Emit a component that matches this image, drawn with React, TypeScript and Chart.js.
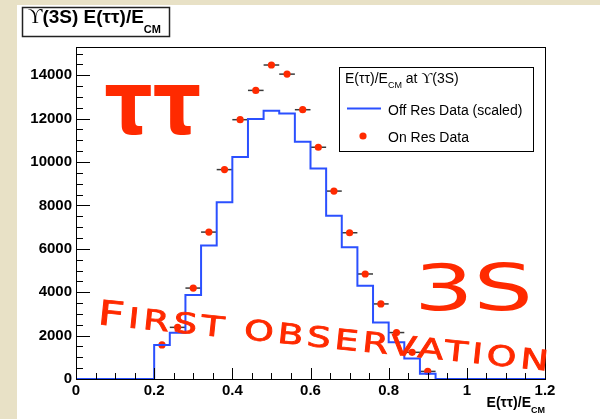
import React, { useEffect, useRef } from 'react';
import { Chart, registerables } from 'chart.js';

Chart.register(...registerables);

// E(tautau)/E_CM histogram: lower bin edges, bin width and scaled off-resonance counts
const binLowEdges = [0.2, 0.24, 0.28, 0.32, 0.36, 0.4, 0.44, 0.48, 0.52, 0.56, 0.6, 0.64, 0.68, 0.72, 0.76, 0.8, 0.84, 0.88];
const binWidth = 0.04;
const offResCounts = [1570, 2130, 3870, 6150, 8140, 10230, 11980, 12360, 12230, 10930, 9700, 7520, 6070, 4300, 2600, 1690, 950, 240];
// On-resonance counts, one per bin (drawn at bin centres)
const onResCounts = [1570, 2380, 4190, 6770, 9650, 11950, 13300, 14470, 14050, 12410, 10680, 8660, 6740, 4840, 3460, 2140, 1230, 350];

const xMin = 0;
const xMax = 1.2;
const yMin = 0;
const yMax = 15300;
const xTickValues = [0, 0.2, 0.4, 0.6, 0.8, 1, 1.2];
const yTickValues = [0, 2000, 4000, 6000, 8000, 10000, 12000, 14000];
const xMinorStep = 0.05;
const yMinorStep = 500;

const RED = '#ff2a00';
const BLUE = '#2b50ff';
const SANS = "'Liberation Sans', Arial, Helvetica, sans-serif";
const SERIF = "'Liberation Serif', 'DejaVu Serif', 'Times New Roman', serif";
const DEJAVU = "'DejaVu Sans', sans-serif";

type Part = { t: string; font: string; dy?: number };

function drawRich(ctx: CanvasRenderingContext2D, x: number, y: number, parts: Part[], align: 'left' | 'right' = 'left') {
  ctx.save();
  ctx.textAlign = 'left';
  ctx.textBaseline = 'alphabetic';
  let total = 0;
  for (const p of parts) {
    ctx.font = p.font;
    total += ctx.measureText(p.t).width;
  }
  let cx = align === 'right' ? x - total : x;
  for (const p of parts) {
    ctx.font = p.font;
    ctx.fillText(p.t, cx, y + (p.dy || 0));
    cx += ctx.measureText(p.t).width;
  }
  ctx.restore();
}

function fitText(ctx: CanvasRenderingContext2D, text: string, font: string, l: number, t: number, r: number, b: number) {
  ctx.save();
  ctx.font = font;
  ctx.textAlign = 'left';
  ctx.textBaseline = 'alphabetic';
  const m = ctx.measureText(text);
  const w = m.actualBoundingBoxLeft + m.actualBoundingBoxRight;
  const h = m.actualBoundingBoxAscent + m.actualBoundingBoxDescent;
  ctx.translate(l, t);
  ctx.scale((r - l) / w, (b - t) / h);
  ctx.fillText(text, m.actualBoundingBoxLeft, m.actualBoundingBoxAscent);
  ctx.restore();
}

const decorations = {
  id: 'decorations',
  beforeDraw(chart: any) {
    const ctx = chart.ctx as CanvasRenderingContext2D;
    ctx.save();
    ctx.fillStyle = '#e8e1c6';
    ctx.fillRect(0, 0, chart.width, chart.height);
    ctx.fillStyle = '#ffffff';
    ctx.fillRect(17, 5, chart.width - 17, chart.height - 5);
    ctx.restore();
  },
  beforeDatasetsDraw(chart: any) {
    // horizontal error bars (bin width) of the on-resonance points
    const ctx = chart.ctx as CanvasRenderingContext2D;
    const xs = chart.scales.x;
    const ys = chart.scales.y;
    ctx.save();
    ctx.strokeStyle = '#3a3a3a';
    ctx.lineWidth = 1.5;
    onResCounts.forEach((v, i) => {
      const lo = binLowEdges[i];
      const y = ys.getPixelForValue(v);
      ctx.beginPath();
      ctx.moveTo(xs.getPixelForValue(lo), y);
      ctx.lineTo(xs.getPixelForValue(lo + binWidth), y);
      ctx.stroke();
    });
    ctx.restore();
  },
  afterDraw(chart: any) {
    const ctx = chart.ctx as CanvasRenderingContext2D;
    const xs = chart.scales.x;
    const ys = chart.scales.y;
    const { left, right, top, bottom } = chart.chartArea;

    ctx.save();
    // frame
    ctx.strokeStyle = '#000';
    ctx.lineWidth = 1;
    ctx.strokeRect(Math.round(left) + 0.5, Math.round(top) + 0.5, Math.round(right - left), Math.round(bottom - top));

    // y ticks, pointing into the frame
    ctx.beginPath();
    for (let v = yMin; v <= yMax + 1e-6; v += yMinorStep) {
      const y = Math.round(ys.getPixelForValue(v)) + 0.5;
      const major = Math.abs(v % 2000) < 1e-6;
      ctx.moveTo(left, y);
      ctx.lineTo(left + (major ? 14 : 7), y);
    }
    // x ticks
    for (let k = 0; k * xMinorStep <= xMax + 1e-9; k++) {
      const v = k * xMinorStep;
      const x = Math.round(xs.getPixelForValue(v)) + 0.5;
      const major = k % 4 === 0;
      ctx.moveTo(x, bottom);
      ctx.lineTo(x, bottom - (major ? 11 : 6));
    }
    ctx.stroke();

    // title box
    ctx.fillStyle = '#fff';
    ctx.fillRect(22, 7, 147, 29);
    ctx.strokeStyle = '#222';
    ctx.lineWidth = 1.5;
    ctx.strokeRect(22.5, 7.5, 147, 29);
    ctx.fillStyle = '#000';
    drawRich(ctx, 28, 23, [
      { t: 'ϒ', font: `20px ${SERIF}` },
      { t: '(3S) E(ττ)/E', font: `bold 19px ${SANS}` },
      { t: 'CM', font: `bold 11px ${SANS}`, dy: 10 },
    ]);

    // legend
    ctx.fillStyle = '#fff';
    ctx.fillRect(339, 67, 194, 84);
    ctx.strokeStyle = '#000';
    ctx.lineWidth = 1;
    ctx.strokeRect(339.5, 67.5, 194, 84);
    ctx.fillStyle = '#000';
    drawRich(ctx, 345, 83, [
      { t: 'E(ττ)/E', font: `14px ${SANS}` },
      { t: 'CM', font: `9px ${SANS}`, dy: 5 },
      { t: ' at ', font: `14px ${SANS}` },
      { t: 'ϒ', font: `15px ${SERIF}` },
      { t: '(3S)', font: `14px ${SANS}` },
    ]);
    ctx.strokeStyle = BLUE;
    ctx.lineWidth = 2;
    ctx.beginPath();
    ctx.moveTo(347, 108.5);
    ctx.lineTo(381, 108.5);
    ctx.stroke();
    drawRich(ctx, 388, 115, [{ t: 'Off Res Data (scaled)', font: `14px ${SANS}` }]);
    ctx.fillStyle = RED;
    ctx.beginPath();
    ctx.arc(363, 136, 3.6, 0, Math.PI * 2);
    ctx.fill();
    ctx.fillStyle = '#000';
    drawRich(ctx, 388, 142, [{ t: 'On Res Data', font: `14px ${SANS}` }]);

    // x axis title
    drawRich(ctx, 545, 407, [
      { t: 'E(ττ)/E', font: `bold 14px ${SANS}` },
      { t: 'CM', font: `bold 9px ${SANS}`, dy: 6 },
    ], 'right');

    // annotations
    ctx.fillStyle = RED;
    fitText(ctx, 'ττ', `bold 90px ${DEJAVU}`, 105, 85, 200, 135);
    fitText(ctx, '3S', `66px ${DEJAVU}`, 421, 263, 529, 311);

    ctx.save();
    ctx.translate(97, 324);
    ctx.rotate(Math.atan2(47, 455));
    const bigFont = `34px ${DEJAVU}`;
    const smallFont = `28px ${DEJAVU}`;
    (ctx as any).letterSpacing = '3px';
    ctx.font = bigFont;
    const wF = ctx.measureText('F').width;
    ctx.font = smallFont;
    const rest = 'IRST OBSERVATION';
    const wRest = ctx.measureText(rest).width;
    const sx = 457 / (wF + wRest);
    ctx.scale(sx, 1);
    ctx.textBaseline = 'alphabetic';
    ctx.textAlign = 'left';
    ctx.strokeStyle = RED;
    ctx.lineWidth = 0.8;
    ctx.font = bigFont;
    ctx.fillText('F', 0, 0);
    ctx.strokeText('F', 0, 0);
    ctx.font = smallFont;
    ctx.fillText(rest, wF, 0);
    ctx.strokeText(rest, wF, 0);
    ctx.restore();

    ctx.restore();
  },
};

export default function App() {
  const canvasRef = useRef<HTMLCanvasElement>(null);

  useEffect(() => {
    document.body.style.margin = '0';
    const histPoints = [
      { x: xMin, y: 0 },
      ...binLowEdges.map((e, i) => ({ x: e, y: offResCounts[i] })),
      { x: binLowEdges[binLowEdges.length - 1] + binWidth, y: 0 },
      { x: xMax, y: 0 },
    ];
    const onResPoints = binLowEdges.map((e, i) => ({ x: e + binWidth / 2, y: onResCounts[i] }));

    const chart = new Chart(canvasRef.current as HTMLCanvasElement, {
      type: 'line',
      data: {
        datasets: [
          {
            label: 'Off Res Data (scaled)',
            data: histPoints,
            // horizontal to the next edge first, then vertical
            stepped: 'before',
            borderColor: BLUE,
            borderWidth: 2,
            pointRadius: 0,
            fill: false,
          },
          {
            label: 'On Res Data',
            data: onResPoints,
            showLine: false,
            pointRadius: 3.6,
            pointBackgroundColor: RED,
            pointBorderWidth: 0,
            borderColor: RED,
          },
        ],
      } as any,
      options: {
        responsive: false,
        animation: false,
        events: [],
        layout: { padding: { left: 17, right: 55, top: 47, bottom: 0 } },
        plugins: { legend: { display: false }, tooltip: { enabled: false }, title: { display: false } },
        scales: {
          x: {
            type: 'linear',
            min: xMin,
            max: xMax,
            grid: { display: false, drawTicks: false },
            border: { display: false },
            afterBuildTicks: (scale: any) => {
              scale.ticks = xTickValues.map((v) => ({ value: v }));
            },
            afterFit: (scale: any) => {
              scale.height = 40;
              scale.paddingLeft = 0;
              scale.paddingRight = 0;
            },
            ticks: {
              autoSkip: false,
              maxRotation: 0,
              padding: 3,
              color: '#000',
              font: { family: SANS, size: 15, weight: 'bold' },
              callback: (v: any) => String(Math.round(Number(v) * 10) / 10),
            },
          },
          y: {
            type: 'linear',
            min: yMin,
            max: yMax,
            grid: { display: false, drawTicks: false },
            border: { display: false },
            afterBuildTicks: (scale: any) => {
              scale.ticks = yTickValues.map((v) => ({ value: v }));
            },
            afterFit: (scale: any) => {
              scale.width = 59;
              scale.paddingTop = 0;
              scale.paddingBottom = 0;
            },
            ticks: {
              autoSkip: false,
              padding: 4,
              color: '#000',
              font: { family: SANS, size: 15, weight: 'bold' },
              callback: (v: any) => String(v),
            },
          },
        },
      } as any,
      plugins: [decorations],
    });
    return () => chart.destroy();
  }, []);

  return (
    <div style={{ width: 600, height: 419 }}>
      <canvas ref={canvasRef} width={600} height={419} style={{ display: 'block' }} />
    </div>
  );
}
